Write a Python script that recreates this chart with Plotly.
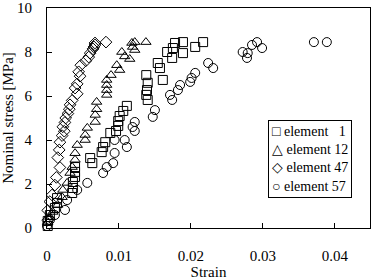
import plotly.graph_objects as go

series_names = ["element&nbsp;&nbsp;&nbsp;1", "element 12", "element 47", "element 57"]
legend_glyphs = ["\u25a1", "\u25b3", "\u25c7", "\u25cb"]
symbols = ["square-open", "triangle-up-open", "diamond-open", "circle-open"]

# element 1 (squares)
e1_strain = [0.0217, 0.0206, 0.0189, 0.0189, 0.0178, 0.0175, 0.0167, 0.0174, 0.0154, 0.0157,
             0.0161, 0.0138, 0.0140, 0.0139, 0.0138, 0.0140, 0.0111, 0.0106, 0.0101, 0.0099,
             0.0099, 0.0096, 0.0088, 0.0081, 0.0078, 0.0076, 0.0060, 0.0063, 0.0039, 0.0039,
             0.0039, 0.0036, 0.0036, 0.0035, 0.0014, 0.0014, 0.0011, 0.0004, 0.0001, 0.0001]
e1_stress = [8.45, 8.23, 8.45, 7.95, 8.41, 8.18, 8.00, 7.73, 7.50, 7.27,
             6.73, 6.95, 6.60, 6.27, 6.05, 5.82, 5.55, 5.32, 5.09, 4.86,
             4.64, 4.41, 4.32, 3.90, 3.68, 3.45, 3.18, 2.95, 2.77, 2.55,
             2.32, 2.09, 1.82, 1.59, 1.36, 1.14, 0.91, 0.59, 0.32, 0.09]

# element 12 (triangles)
e12_strain = [0.01375, 0.0122, 0.0118, 0.0119, 0.0122, 0.0104, 0.0108, 0.0115, 0.0097, 0.0101,
              0.0089, 0.0083, 0.0083, 0.0083, 0.0083, 0.0069, 0.0069, 0.0067, 0.0067, 0.0056,
              0.0053, 0.0053, 0.0042, 0.0039, 0.0039, 0.0035, 0.0032, 0.0028, 0.0022, 0.0021,
              0.0015, 0.0008, 0.0004, 0.0001]
e12_stress = [8.45, 8.45, 8.41, 8.23, 8.09, 8.00, 7.80, 7.68, 7.40, 7.18,
              6.95, 6.73, 6.50, 6.27, 6.05, 5.73, 5.40, 5.14, 4.82, 4.55,
              4.23, 4.00, 3.77, 3.40, 3.10, 2.77, 2.50, 2.05, 1.73, 1.40,
              1.05, 0.73, 0.50, 0.27]

# element 47 (diamonds)
e47_strain = [0.0082, 0.00667, 0.00667, 0.00653, 0.0064, 0.0060, 0.0058, 0.0054, 0.0047, 0.0044,
              0.0046, 0.0042, 0.0039, 0.0042, 0.0035, 0.0032, 0.0031, 0.0029, 0.0026, 0.0025,
              0.0022, 0.0024, 0.0021, 0.0018, 0.0017, 0.0015, 0.0018, 0.0013, 0.0011, 0.0007,
              0.0004, 0.0001, 0.0001]
e47_stress = [8.45, 8.41, 8.32, 8.23, 8.14, 7.95, 7.77, 7.60, 7.40, 7.10,
              6.90, 6.55, 6.36, 6.10, 5.80, 5.60, 5.40, 5.20, 5.00, 4.80,
              4.60, 4.40, 4.20, 3.90, 3.55, 3.20, 2.75, 2.30, 1.95, 1.50,
              1.20, 0.80, 0.35]

# element 57 (circles)
e57_strain = [0.0389, 0.0371, 0.0299, 0.0292, 0.0285, 0.0279, 0.0272, 0.0278, 0.0231, 0.0224,
              0.0206, 0.0201, 0.0199, 0.0185, 0.0182, 0.0171, 0.0174, 0.0150, 0.0147, 0.0122,
              0.0119, 0.0122, 0.0108, 0.0111, 0.0094, 0.0094, 0.0092, 0.0083, 0.0078, 0.0056,
              0.0042, 0.0028, 0.0025, 0.0011, 0.0004, 0.0000]
e57_stress = [8.45, 8.45, 8.18, 8.45, 8.32, 7.95, 8.00, 7.73, 7.27, 7.50,
              7.05, 6.82, 6.64, 6.50, 6.27, 6.05, 5.82, 5.36, 5.05, 4.82,
              4.59, 4.41, 4.00, 3.68, 4.00, 3.41, 2.95, 2.77, 2.50, 2.05,
              1.73, 1.27, 0.82, 0.59, 0.36, 0.09]

x_ticks = [0, 0.01, 0.02, 0.03, 0.04]
x_tick_labels = ["0", "0.01", "0.02", "0.03", "0.04"]
y_ticks = [0, 2, 4, 6, 8, 10]
y_tick_labels = ["0", "2", "4", "6", "8", "10"]

xs = [e1_strain, e12_strain, e47_strain, e57_strain]
ys = [e1_stress, e12_stress, e47_stress, e57_stress]

font = "Liberation Serif"

fig = go.Figure()
for name, sym, x, y in zip(series_names, symbols, xs, ys):
    fig.add_trace(go.Scatter(
        x=x, y=y, mode="markers", name=name, showlegend=False, cliponaxis=False,
        marker=dict(symbol=sym, size=9, color="black", line=dict(width=1, color="black")),
    ))

legend_text = "<br>".join(f"{g} {n}" for g, n in zip(legend_glyphs, series_names))
fig.add_annotation(
    xref="paper", yref="paper", x=0.945, y=0.49, xanchor="right", yanchor="top",
    text=legend_text, showarrow=False, align="left",
    font=dict(family=font, size=14, color="black"),
    bordercolor="black", borderwidth=1, borderpad=3, bgcolor="white",
)

axis_common = dict(
    showline=True, linecolor="black", linewidth=1, mirror=True, automargin=False,
    ticks="inside", ticklen=5, tickcolor="black", showgrid=False, zeroline=False,
    tickfont=dict(family=font, size=15, color="black"),
)

fig.update_layout(
    width=376, height=280,
    margin=dict(l=47, r=6, t=8, b=52),
    paper_bgcolor="white", plot_bgcolor="white",
    font=dict(family=font, size=15, color="black"),
    xaxis=dict(range=[0, 0.0449], tickvals=x_ticks, ticktext=x_tick_labels,
               ticklabelstandoff=14,
               title=dict(text="Strain", font=dict(family=font, size=15), standoff=5),
               **axis_common),
    yaxis=dict(range=[0, 10], tickvals=y_ticks, ticktext=y_tick_labels,
               ticklabelstandoff=11,
               title=dict(text="Nominal stress [MPa]", font=dict(family=font, size=15), standoff=4),
               **axis_common),
)

fig.write_html("out.html")
